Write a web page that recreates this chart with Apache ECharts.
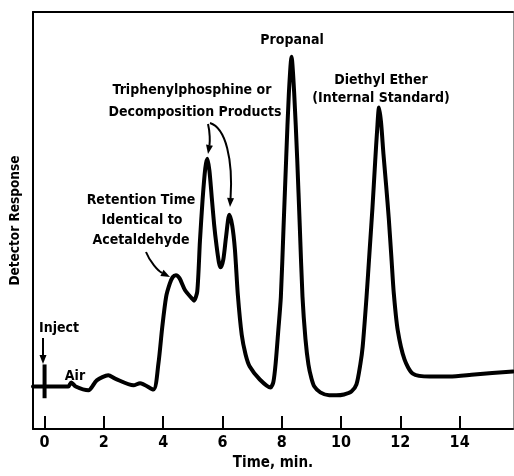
<!DOCTYPE html>
<html>
<head>
<meta charset="utf-8">
<script src="https://cdn.jsdelivr.net/npm/echarts@6/dist/echarts.min.js"></script>
<style>
  html, body { margin: 0; padding: 0; background: #fff; }
  #chart { width: 514px; height: 476px; }
</style>
</head>
<body>
<div id="chart"></div>
<script>
// chromatogram trace (time in min, response in arbitrary units)
const times = [-0.39, 0.8, 0.9, 1.05, 1.48, 1.76, 2.15, 2.38, 3.0, 3.22, 3.67, 3.84, 3.97, 4.1, 4.22, 4.32, 4.43, 4.55, 4.74, 4.96,
  5.04, 5.15, 5.24, 5.33, 5.42, 5.49, 5.56, 5.64, 5.72, 5.8, 5.88, 5.94, 6.03, 6.12, 6.23, 6.33, 6.42, 6.52, 6.65, 6.78, 6.92, 7.26,
  7.62, 7.72, 7.8, 7.88, 7.97, 8.06, 8.15, 8.24, 8.33, 8.42, 8.52, 8.61, 8.7, 8.8, 8.9, 9.0, 9.1, 9.3, 9.6, 9.84,
  10.1, 10.35, 10.52, 10.65, 10.73, 10.86, 10.96, 11.06, 11.15, 11.22, 11.28, 11.35, 11.43, 11.52, 11.61, 11.7, 11.78, 11.91, 12.14, 12.42,
  12.99, 13.66, 14.5, 15.8];
const response = [10.2, 10.2, 11.2, 10.2, 9.3, 11.7, 12.9, 12.1, 10.5, 11.0, 9.5, 15.7, 24.5, 31.7, 34.8, 36.4, 36.9, 36.2, 33.3, 31.4,
  30.8, 33.0, 45.0, 55.0, 62.5, 64.8, 62.0, 55.5, 49.0, 44.0, 40.0, 38.8, 40.7, 46.0, 51.4, 48.8, 43.1, 32.1, 22.6, 17.9, 15.0, 11.9,
  10.0, 11.4, 16.2, 23.3, 31.7, 48.3, 65.0, 80.5, 89.3, 80.5, 65.0, 48.3, 31.7, 21.6, 15.5, 12.2, 10.2, 8.8, 8.1, 8.1,
  8.3, 9.0, 10.7, 15.5, 19.8, 31.7, 42.4, 53.1, 64.0, 72.0, 77.1, 73.5, 66.0, 58.5, 50.5, 41.0, 32.5, 23.8, 16.7, 13.3,
  12.6, 12.6, 13.1, 13.8];
// injection spike at t = 0
const injectTimes = [0, 0];
const injectResponse = [15.5, 7.4];

const xTicks = [0, 2, 4, 6, 8, 10, 12, 14];

const trace = times.map((t, i) => [t, response[i]]);
const spike = injectTimes.map((t, i) => [t, injectResponse[i]]);

const FONT = 'DejaVu Sans Condensed';
const txtFont = 'bold 14px "' + FONT + '"';

const label = (text, x, y) => ({
  type: 'text', x: x, y: y,
  style: { text: text, font: txtFont, fill: '#000', textAlign: 'center', textVerticalAlign: 'middle' }
});

// curved arrow: cubic bezier with a filled head at the end
const arrow = (p0, c1, c2, p1) => {
  let dx = p1[0] - c2[0], dy = p1[1] - c2[1];
  let len = Math.sqrt(dx * dx + dy * dy) || 1;
  dx /= len; dy /= len;
  const hl = 9, hw = 3.5;
  const bx = p1[0] - dx * hl, by = p1[1] - dy * hl;
  return [
    { type: 'bezierCurve',
      shape: { x1: p0[0], y1: p0[1], cpx1: c1[0], cpy1: c1[1], cpx2: c2[0], cpy2: c2[1], x2: bx, y2: by },
      style: { stroke: '#000', lineWidth: 2, fill: null } },
    { type: 'polygon',
      shape: { points: [[p1[0], p1[1]], [bx - dy * hw, by + dx * hw], [bx + dy * hw, by - dx * hw]] },
      style: { fill: '#000' } }
  ];
};

const graphics = [
  label('Propanal', 292, 40),
  label('Diethyl Ether', 381, 80),
  label('(Internal Standard)', 381, 98),
  label('Triphenylphosphine or', 192, 90),
  label('Decomposition Products', 195, 112),
  label('Retention Time', 141, 200),
  label('Identical to', 142, 220),
  label('Acetaldehyde', 141, 240),
  label('Inject', 59, 328),
  label('Air', 75, 376),
  ...arrow([43, 338], [43, 345], [43, 352], [43, 364]),
  ...arrow([146, 252], [150, 262], [158, 271], [170, 277]),
  ...arrow([208, 124], [210, 132], [210, 142], [208, 154]),
  ...arrow([210, 123], [226, 128], [233, 160], [230, 207])
];

const axisFont = { color: '#000', fontFamily: FONT, fontWeight: 'bold' };

const chart = echarts.init(document.getElementById('chart'), null, { renderer: 'canvas' });
chart.setOption({
  animation: false,
  backgroundColor: '#fff',
  grid: { left: 33, right: 1, top: 12, bottom: 43 },
  xAxis: [{
    type: 'value', min: -0.39, max: 15.8,
    axisLine: { onZero: false, lineStyle: { color: '#000', width: 2 } },
    axisTick: { show: true, inside: true, length: 13, customValues: xTicks, lineStyle: { color: '#000', width: 2 } },
    axisLabel: Object.assign({ customValues: xTicks, fontSize: 16, margin: 6 }, axisFont),
    splitLine: { show: false },
    name: 'Time, min.', nameLocation: 'middle', nameGap: 25,
    nameTextStyle: Object.assign({ fontSize: 15 }, axisFont)
  }, {
    type: 'value', position: 'top', min: -0.39, max: 15.8,
    axisLine: { onZero: false, lineStyle: { color: '#000', width: 2 } },
    axisTick: { show: false }, axisLabel: { show: false }, splitLine: { show: false }
  }],
  yAxis: [{
    type: 'value', min: 0, max: 100,
    axisLine: { show: true, onZero: false, lineStyle: { color: '#000', width: 2 } },
    axisTick: { show: false }, axisLabel: { show: false }, splitLine: { show: false },
    name: 'Detector Response', nameLocation: 'middle', nameGap: 11,
    nameTextStyle: Object.assign({ fontSize: 13.5 }, axisFont)
  }, {
    type: 'value', position: 'right', min: 0, max: 100,
    axisLine: { show: true, onZero: false, lineStyle: { color: '#999', width: 1 } },
    axisTick: { show: false }, axisLabel: { show: false }, splitLine: { show: false }
  }],
  series: [{
    type: 'line', data: trace, smooth: 0.25, symbol: 'none',
    lineStyle: { color: '#000', width: 4, join: 'round', cap: 'round' }
  }, {
    type: 'line', data: spike, symbol: 'none',
    lineStyle: { color: '#000', width: 4 }
  }],
  graphic: graphics
});
</script>
</body>
</html>
